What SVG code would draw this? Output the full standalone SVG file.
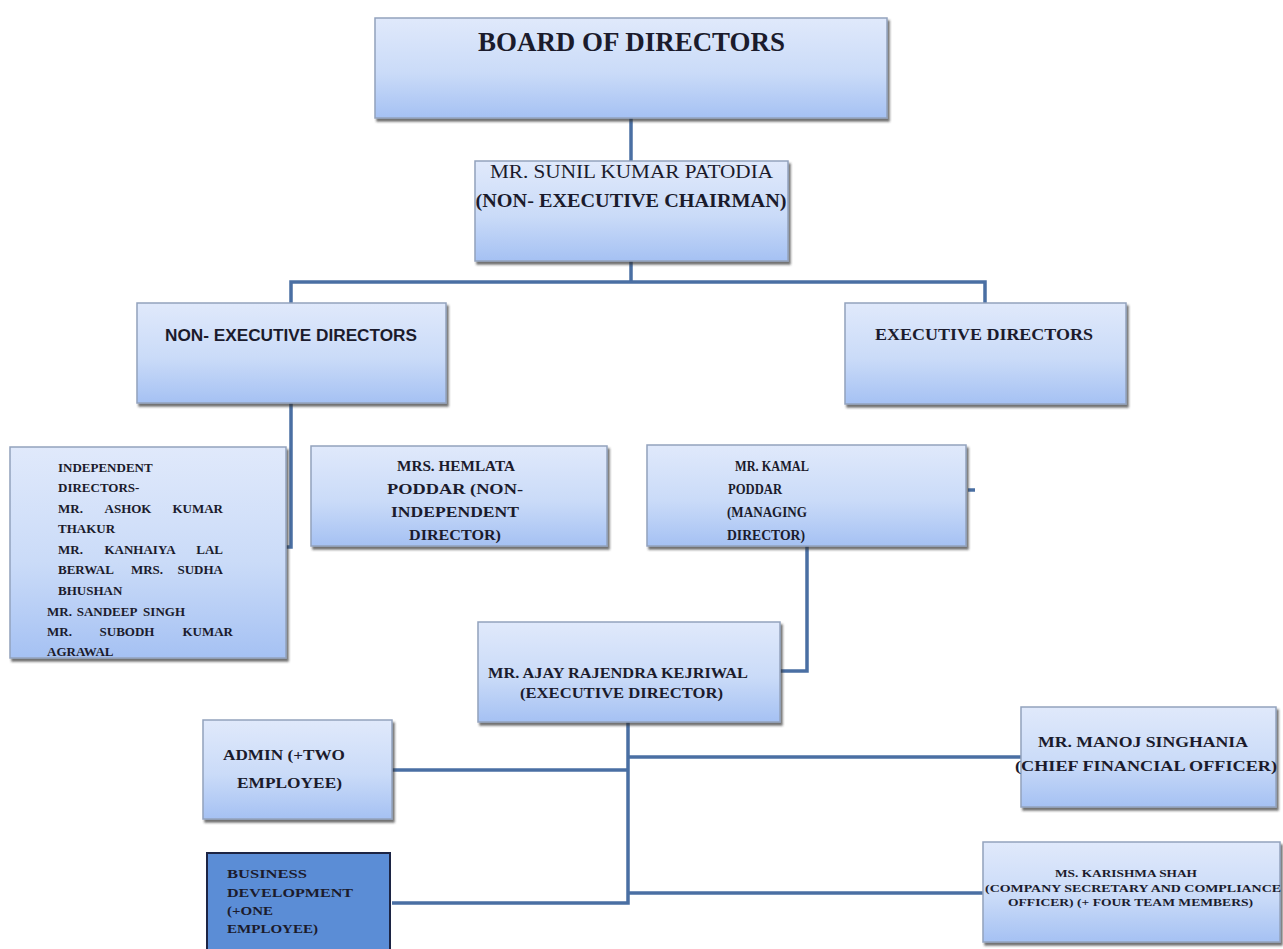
<svg xmlns="http://www.w3.org/2000/svg" width="1283" height="949" viewBox="0 0 1283 949">
<defs>
  <linearGradient id="g" x1="0" y1="0" x2="0" y2="1">
    <stop offset="0" stop-color="#e0e9fb"/>
    <stop offset="0.55" stop-color="#cadbf8"/>
    <stop offset="1" stop-color="#a5c1f3"/>
  </linearGradient>
  <filter id="sh" x="-5%" y="-5%" width="115%" height="120%">
    <feDropShadow dx="2" dy="3" stdDeviation="1.2" flood-color="#333" flood-opacity="0.7"/>
  </filter>
  <style>
    .box{fill:url(#g);stroke:#93a2bd;stroke-width:1.5;filter:url(#sh)}
    .dark{fill:#5b8dd6;stroke:#1c2444;stroke-width:2}
    .c{fill:none;stroke:#4a6fa3;stroke-width:3.5}
    .s{font-family:"Liberation Serif","Times New Roman",serif;font-weight:bold;fill:#1b1b2c}
    .r{font-family:"Liberation Serif","Times New Roman",serif;fill:#1b1b2c}
    .sans{font-family:"Liberation Sans",Arial,sans-serif;font-weight:bold;fill:#1b1b2c}
    .m{text-anchor:middle}
    .e{text-anchor:end}
  </style>
</defs>
<rect width="1283" height="949" fill="#ffffff"/>

<g id="connectors">
  <line class="c" x1="631" y1="118" x2="631" y2="161"/>
  <polyline class="c" points="631,261 631,282"/>
  <polyline class="c" points="291,303 291,282 985,282 985,303"/>
  <polyline class="c" points="291,403 291,547 286,547"/>
  <polyline class="c" points="807,546 807,671 780,671"/>
  <line class="c" x1="968" y1="490" x2="975" y2="490"/>
  <polyline class="c" points="628,722 628,903 392,903"/>
  <line class="c" x1="628" y1="757" x2="1021" y2="757"/>
  <line class="c" x1="628" y1="770" x2="392" y2="770"/>
  <line class="c" x1="628" y1="893" x2="983" y2="893"/>
</g>

<g id="board">
  <rect class="box" x="375" y="18" width="512" height="100"/>
  <text class="s m" x="631.5" y="51" font-size="27" textLength="307" lengthAdjust="spacingAndGlyphs">BOARD OF DIRECTORS</text>
</g>

<g id="chairman">
  <rect class="box" x="475" y="161" width="313" height="100"/>
  <text class="r m" x="631.5" y="178" font-size="18" textLength="283" lengthAdjust="spacingAndGlyphs">MR. SUNIL KUMAR PATODIA</text>
  <text class="s m" x="631" y="207" font-size="18" textLength="311" lengthAdjust="spacingAndGlyphs">(NON- EXECUTIVE CHAIRMAN)</text>
</g>

<g id="non-exec">
  <rect class="box" x="137" y="303" width="309" height="100"/>
  <text class="sans m" x="291" y="341" font-size="16" textLength="252" lengthAdjust="spacingAndGlyphs">NON- EXECUTIVE DIRECTORS</text>
</g>

<g id="exec">
  <rect class="box" x="845" y="303" width="281" height="101"/>
  <text class="s" x="875" y="340" font-size="16" textLength="218" lengthAdjust="spacingAndGlyphs">EXECUTIVE  DIRECTORS</text>
</g>

<g id="independent">
  <rect class="box" x="10" y="447" width="276" height="211"/>
  <g class="s" font-size="13">
    <text x="58" y="472">INDEPENDENT</text>
    <text x="58" y="492">DIRECTORS-</text>
    <text x="58" y="513">MR.</text><text class="m" x="128" y="513">ASHOK</text><text class="e" x="223" y="513">KUMAR</text>
    <text x="58" y="533">THAKUR</text>
    <text x="58" y="554">MR.</text><text class="m" x="140" y="554">KANHAIYA</text><text class="e" x="223" y="554">LAL</text>
    <text x="58" y="574">BERWAL</text><text class="m" x="147" y="574">MRS.</text><text class="e" x="223" y="574">SUDHA</text>
    <text x="58" y="595">BHUSHAN</text>
    <text x="47" y="616">MR.</text><text class="m" x="107" y="616">SANDEEP</text><text class="e" x="185" y="616">SINGH</text>
    <text x="47" y="636">MR.</text><text class="m" x="127" y="636">SUBODH</text><text class="e" x="233" y="636">KUMAR</text>
    <text x="47" y="656">AGRAWAL</text>
  </g>
</g>

<g id="hemlata">
  <rect class="box" x="311" y="446" width="296" height="100"/>
  <g class="s m" font-size="14">
    <text x="456" y="471" textLength="118" lengthAdjust="spacingAndGlyphs">MRS. HEMLATA</text>
    <text x="455" y="494" textLength="136" lengthAdjust="spacingAndGlyphs">PODDAR (NON-</text>
    <text x="455" y="517" textLength="128" lengthAdjust="spacingAndGlyphs">INDEPENDENT</text>
    <text x="455" y="540" textLength="92" lengthAdjust="spacingAndGlyphs">DIRECTOR)</text>
  </g>
</g>

<g id="kamal">
  <rect class="box" x="647" y="445" width="319" height="101"/>
  <g class="s" font-size="14">
    <text x="735" y="471" textLength="74" lengthAdjust="spacingAndGlyphs">MR. KAMAL</text>
    <text x="728" y="494" textLength="54" lengthAdjust="spacingAndGlyphs">PODDAR</text>
    <text x="727" y="517" textLength="80" lengthAdjust="spacingAndGlyphs">(MANAGING</text>
    <text x="727" y="540" textLength="78" lengthAdjust="spacingAndGlyphs">DIRECTOR)</text>
  </g>
</g>

<g id="ajay">
  <rect class="box" x="478" y="622" width="302" height="100"/>
  <text class="s" x="488" y="678" font-size="14" textLength="260" lengthAdjust="spacingAndGlyphs">MR. AJAY RAJENDRA KEJRIWAL</text>
  <text class="s" x="520" y="698" font-size="14" textLength="203" lengthAdjust="spacingAndGlyphs">(EXECUTIVE DIRECTOR)</text>
</g>

<g id="admin">
  <rect class="box" x="203" y="720" width="189" height="99"/>
  <text class="s" x="223" y="760" font-size="15" textLength="122" lengthAdjust="spacingAndGlyphs">ADMIN (+TWO</text>
  <text class="s" x="237" y="788" font-size="15" textLength="105" lengthAdjust="spacingAndGlyphs">EMPLOYEE)</text>
</g>

<g id="manoj">
  <rect class="box" x="1021" y="707" width="255" height="100"/>
  <text class="s" x="1038" y="747" font-size="15" textLength="210" lengthAdjust="spacingAndGlyphs">MR. MANOJ SINGHANIA</text>
  <text class="s" x="1015" y="771" font-size="15" textLength="262" lengthAdjust="spacingAndGlyphs">(CHIEF FINANCIAL  OFFICER)</text>
</g>

<g id="business">
  <rect class="dark" x="207" y="853" width="183" height="100"/>
  <g class="s" font-size="13">
    <text x="227" y="878" textLength="80" lengthAdjust="spacingAndGlyphs">BUSINESS</text>
    <text x="227" y="897" textLength="126" lengthAdjust="spacingAndGlyphs">DEVELOPMENT</text>
    <text x="227" y="915" textLength="46" lengthAdjust="spacingAndGlyphs">(+ONE</text>
    <text x="227" y="933" textLength="91" lengthAdjust="spacingAndGlyphs">EMPLOYEE)</text>
  </g>
</g>

<g id="karishma">
  <rect class="box" x="983" y="842" width="297" height="100"/>
  <g class="s" font-size="11">
    <text x="1055" y="877" textLength="142" lengthAdjust="spacingAndGlyphs">MS. KARISHMA  SHAH</text>
    <text x="985" y="892" textLength="296" lengthAdjust="spacingAndGlyphs">(COMPANY SECRETARY  AND COMPLIANCE</text>
    <text x="1008" y="906" textLength="245" lengthAdjust="spacingAndGlyphs">OFFICER) (+ FOUR TEAM MEMBERS)</text>
  </g>
</g>
</svg>
